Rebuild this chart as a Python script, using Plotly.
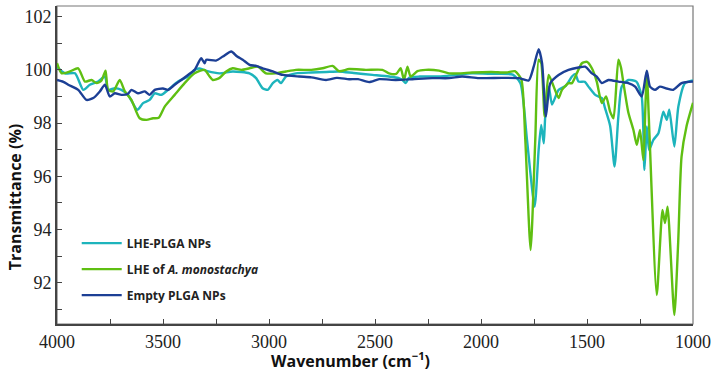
import plotly.graph_objects as go

# ---- data ----
wn_lhe_plga = [4000, 3962, 3915, 3876, 3845, 3806, 3774, 3759, 3727, 3696, 3665, 3621, 3594, 3563,
               3539, 3508, 3476, 3429, 3382, 3351, 3327, 3290, 3233, 3171, 3092, 3061, 3030, 3006,
               2982, 2960, 2943, 2920, 2873, 2800, 2730, 2669, 2600, 2512, 2434, 2390, 2371, 2355,
               2340, 2290, 2198, 2120, 2042, 1950, 1850, 1814, 1783, 1747, 1728, 1716, 1704, 1697,
               1680, 1665, 1634, 1600, 1571, 1555, 1540, 1510, 1493, 1461, 1430, 1415, 1391, 1370,
               1352, 1336, 1305, 1267, 1242, 1229, 1218, 1207, 1187, 1163, 1140, 1124, 1112, 1088,
               1069, 1038, 1000]
t_lhe_plga = [100.1, 99.87, 99.87, 99.25, 99.44, 99.56, 99.75, 99.25, 99.31, 99.25, 99.06, 98.5, 98.75, 98.87,
              99.12, 99.06, 99.25, 99.56, 99.75, 100.0, 100.05, 99.95, 99.87, 99.94, 99.87, 99.69, 99.31, 99.25,
              99.5, 99.62, 99.5, 99.75, 99.87, 99.9, 99.92, 99.94, 99.88, 99.81, 99.75, 99.7, 99.62, 99.5,
              99.7, 99.75, 99.75, 99.81, 99.87, 99.85, 99.82, 99.5, 97.37, 94.86, 97.0, 97.93, 97.24, 98.25,
              99.37, 98.7, 99.25, 99.4, 99.75, 99.85, 99.56, 99.55, 99.37, 99.06, 98.94, 98.56, 97.9, 96.37,
              98.25, 99.37, 99.62, 99.56, 99.0, 96.24, 97.87, 96.99, 97.37, 97.62, 98.43, 98.12, 98.5, 97.12,
              98.62, 99.5, 99.6]

wn_lhe = [4000, 3978, 3939, 3900, 3868, 3837, 3813, 3790, 3771, 3759, 3735, 3704, 3680, 3649, 3610,
          3578, 3547, 3520, 3492, 3445, 3398, 3351, 3304, 3280, 3265, 3233, 3202, 3171, 3130, 3092,
          3053, 3014, 2970, 2920, 2873, 2800, 2747, 2700, 2669, 2622, 2543, 2465, 2434, 2400, 2379,
          2363, 2347, 2332, 2300, 2261, 2198, 2151, 2100, 2042, 1950, 1880, 1840, 1810, 1791, 1766,
          1744, 1728, 1716, 1700, 1681, 1657, 1634, 1618, 1587, 1571, 1548, 1524, 1500, 1477, 1454,
          1430, 1410, 1391, 1375, 1352, 1340, 1328, 1305, 1281, 1265, 1250, 1234, 1225, 1218, 1205,
          1171, 1144, 1132, 1120, 1088, 1070, 1054, 1030, 1000]
t_lhe = [100.25, 99.87, 99.94, 100.06, 99.56, 99.62, 99.5, 99.6, 99.97, 99.25, 99.19, 99.62, 99.19, 98.87, 98.18,
         98.12, 98.18, 98.2, 98.62, 99.06, 99.5, 99.87, 100.0, 99.75, 99.62, 99.7, 99.94, 100.06, 100.0, 100.06,
         100.12, 99.87, 99.87, 99.94, 100.0, 100.0, 100.06, 100.15, 99.95, 100.03, 100.0, 100.0, 99.87, 99.85, 100.06,
         99.62, 100.12, 99.75, 99.95, 100.0, 99.97, 99.87, 99.87, 99.9, 99.92, 99.9, 99.95, 99.65, 97.37, 93.23,
         97.37, 100.38, 100.25, 98.25, 99.81, 99.37, 98.94, 99.25, 99.5, 99.5, 99.87, 100.25, 100.3, 100.06, 99.56,
         98.75, 99.0, 98.43, 98.18, 100.38, 100.1, 99.5, 98.4, 97.74, 97.18, 97.74, 96.6, 98.5, 99.94, 97.5,
         91.54, 94.74, 94.24, 94.86, 90.79, 93.5, 96.74, 97.9, 98.76]

wn_empty = [4000, 3970, 3947, 3900, 3861, 3829, 3798, 3774, 3751, 3727, 3696, 3665, 3649, 3618, 3586,
            3563, 3539, 3500, 3476, 3445, 3414, 3382, 3351, 3320, 3304, 3296, 3250, 3218, 3178, 3150,
            3124, 3092, 3060, 3030, 2982, 2935, 2857, 2800, 2731, 2680, 2622, 2580, 2528, 2480, 2402,
            2324, 2230, 2150, 2089, 2010, 1900, 1822, 1775, 1751, 1728, 1712, 1694, 1673, 1634, 1587,
            1540, 1509, 1477, 1454, 1430, 1399, 1352, 1305, 1273, 1242, 1218, 1203, 1179, 1156, 1124,
            1093, 1054, 1000]
t_empty = [99.62, 99.55, 99.44, 99.25, 98.87, 98.94, 99.19, 99.44, 99.0, 99.12, 99.06, 99.1, 99.25, 99.12, 99.19,
           99.06, 99.25, 99.3, 99.25, 99.44, 99.62, 99.81, 100.0, 100.44, 100.25, 100.38, 100.35, 100.5, 100.69, 100.5,
           100.38, 100.19, 100.15, 100.06, 99.94, 99.81, 99.75, 99.72, 99.62, 99.7, 99.65, 99.65, 99.54, 99.65, 99.62,
           99.65, 99.69, 99.69, 99.75, 99.69, 99.7, 99.69, 99.6, 100.13, 100.78, 100.25, 98.25, 99.5, 99.81, 100.0,
           100.09, 100.12, 99.87, 99.75, 99.5, 99.62, 99.56, 99.5, 99.37, 99.0, 99.97, 99.37, 99.25, 99.37, 99.3,
           99.25, 99.5, 99.56]

x_ticks = [4000, 3500, 3000, 2500, 2000, 1500, 1000]
y_ticks = [92, 94, 96, 98, 100, 102]

series = [
    ("<b>LHE-PLGA NPs</b>", wn_lhe_plga, t_lhe_plga, "#1db4bc"),
    ("<b>LHE of <i>A. monostachya</i></b>", wn_lhe, t_lhe, "#5fbf12"),
    ("<b>Empty PLGA NPs</b>", wn_empty, t_empty, "#1c3f95"),
]

fig = go.Figure()
for i, (name, x, y, c) in enumerate(series):
    fig.add_trace(go.Scatter(x=x, y=y, mode="lines", name=name, legendgroup=str(i),
                             line=dict(color=c, width=2.4, shape="spline", smoothing=0.6)))

axis_font = dict(family="Liberation Serif", size=18, color="#222")
title_font = dict(family="Open Sans", size=16, color="#111")
fig.update_layout(
    width=717, height=380,
    margin=dict(l=57, r=22, t=6, b=56),
    plot_bgcolor="white", paper_bgcolor="white",
    showlegend=True,
    legend=dict(x=0.031, y=0.30, xanchor="left", yanchor="top", traceorder="grouped",
                tracegroupgap=7, itemwidth=40, bgcolor="rgba(0,0,0,0)",
                font=dict(family="Open Sans", size=12, color="#222")),
    shapes=[dict(type="rect", xref="paper", yref="paper", x0=0, y0=0, x1=1, y1=1,
                 line=dict(color="#777", width=1.2), layer="below")],
    annotations=[
        dict(text="<b>Wavenumber (cm<sup>−1</sup>)</b>", xref="paper", yref="paper",
             x=0.462, y=-0.113, xanchor="center", yanchor="middle", showarrow=False, font=title_font),
        dict(text="<b>Transmittance (%)</b>", xref="paper", yref="paper", textangle=-90,
             x=-0.067, y=0.40, xanchor="center", yanchor="middle", showarrow=False, font=title_font),
    ],
)
fig.update_xaxes(range=[4000, 1000], tickvals=x_ticks, ticks="inside", ticklen=5, tickwidth=1.2,
                 tickcolor="#444", showline=True, linecolor="#444", linewidth=1.8, showgrid=False,
                 zeroline=False, tickfont=axis_font,
                 minor=dict(dtick=250, ticks="inside", ticklen=5, tickcolor="#444", tickwidth=1.2))
fig.update_yaxes(range=[90.45, 102.4], tickvals=y_ticks, ticks="inside", ticklen=5, tickwidth=1.2,
                 tickcolor="#444", showline=True, linecolor="#444", linewidth=1.8, showgrid=False,
                 zeroline=False, tickfont=axis_font,
                 minor=dict(dtick=1, ticks="inside", ticklen=5, tickcolor="#444", tickwidth=1.2))

fig.write_html("out.html")
